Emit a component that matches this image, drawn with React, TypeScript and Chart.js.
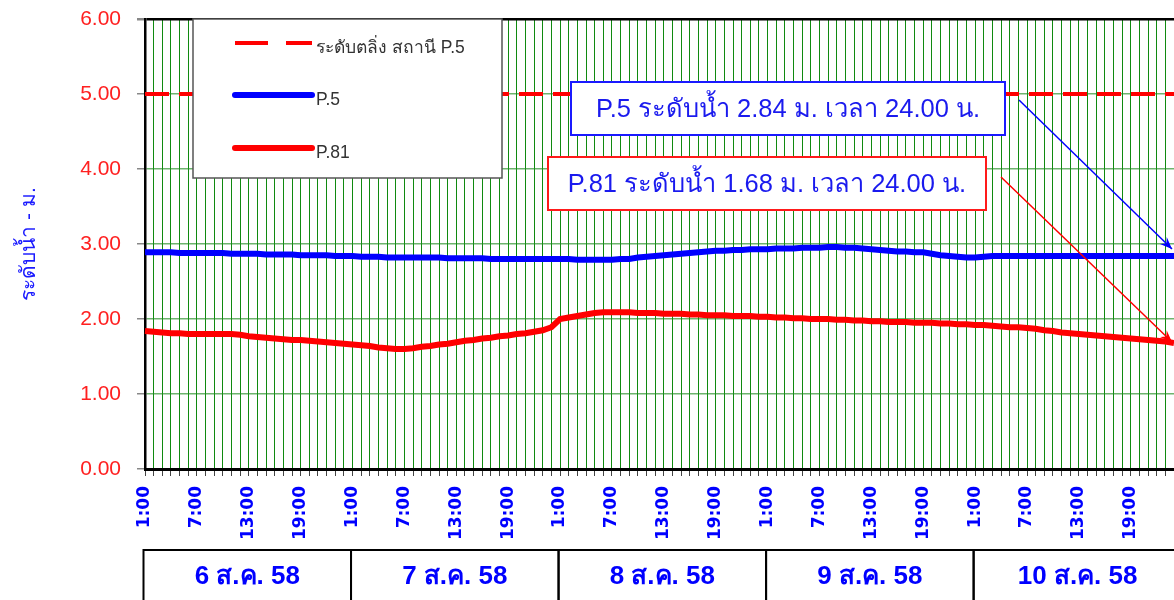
import React, { useEffect, useRef } from 'react';
import { Chart, registerables } from 'chart.js';

Chart.register(...registerables);

const FONT = "'Liberation Sans', 'Noto Sans', 'DejaVu Sans', sans-serif";

const dayLabels = ['6 ส.ค. 58', '7 ส.ค. 58', '8 ส.ค. 58', '9 ส.ค. 58', '10 ส.ค. 58'];
const hourLabels = [
  '1:00', '2:00', '3:00', '4:00', '5:00', '6:00', '7:00', '8:00', '9:00', '10:00', '11:00', '12:00',
  '13:00', '14:00', '15:00', '16:00', '17:00', '18:00', '19:00', '20:00', '21:00', '22:00', '23:00', '24:00',
];
const yTickValues = [0, 1, 2, 3, 4, 5, 6];

const bankLevel = 5.0;
const bankLabel = 'ระดับตลิ่ง สถานี P.5';

const p5Values = [
  2.89, 2.89, 2.89, 2.89, 2.88, 2.88, 2.88, 2.88, 2.88, 2.88, 2.87, 2.87, 2.87, 2.87, 2.86, 2.86, 2.86, 2.86, 2.85, 2.85, 2.85, 2.85, 2.84, 2.84,
  2.84, 2.83, 2.83, 2.83, 2.82, 2.82, 2.82, 2.82, 2.82, 2.82, 2.82, 2.81, 2.81, 2.81, 2.81, 2.81, 2.80, 2.80, 2.80, 2.80, 2.80, 2.80, 2.80, 2.80,
  2.80, 2.80, 2.79, 2.79, 2.79, 2.79, 2.79, 2.80, 2.80, 2.82, 2.83, 2.84, 2.85, 2.86, 2.87, 2.88, 2.89, 2.90, 2.91, 2.91, 2.92, 2.92, 2.93, 2.93,
  2.93, 2.94, 2.94, 2.94, 2.95, 2.95, 2.95, 2.96, 2.96, 2.95, 2.95, 2.94, 2.93, 2.92, 2.91, 2.90, 2.90, 2.89, 2.89, 2.87, 2.85, 2.84, 2.83, 2.82,
  2.82, 2.83, 2.84, 2.84, 2.84, 2.84, 2.84, 2.84, 2.84, 2.84, 2.84, 2.84, 2.84, 2.84, 2.84, 2.84, 2.84, 2.84, 2.84, 2.84, 2.84, 2.84, 2.84, 2.84,
];

const p81Values = [
  1.84, 1.83, 1.82, 1.81, 1.81, 1.80, 1.80, 1.80, 1.80, 1.80, 1.80, 1.79, 1.77, 1.76, 1.75, 1.74, 1.73, 1.72, 1.72, 1.71, 1.70, 1.69, 1.68, 1.67,
  1.66, 1.65, 1.64, 1.62, 1.61, 1.60, 1.60, 1.61, 1.63, 1.64, 1.66, 1.67, 1.69, 1.71, 1.72, 1.74, 1.75, 1.77, 1.78, 1.80, 1.81, 1.83, 1.85, 1.89,
  2.00, 2.02, 2.04, 2.06, 2.08, 2.09, 2.09, 2.09, 2.09, 2.08, 2.08, 2.08, 2.07, 2.07, 2.07, 2.06, 2.06, 2.05, 2.05, 2.05, 2.04, 2.04, 2.04, 2.03,
  2.03, 2.02, 2.02, 2.01, 2.01, 2.00, 2.00, 2.00, 1.99, 1.99, 1.98, 1.98, 1.97, 1.97, 1.96, 1.96, 1.96, 1.95, 1.95, 1.95, 1.94, 1.94, 1.93, 1.93,
  1.92, 1.92, 1.91, 1.90, 1.89, 1.89, 1.88, 1.87, 1.85, 1.84, 1.82, 1.81, 1.80, 1.79, 1.78, 1.77, 1.76, 1.75, 1.74, 1.73, 1.72, 1.71, 1.70, 1.68,
];

const p5Note = 'P.5 ระดับน้ำ 2.84 ม. เวลา 24.00 น.';
const p81Note = 'P.81 ระดับน้ำ 1.68 ม. เวลา 24.00 น.';

const categories = dayLabels.flatMap((d) => hourLabels.map((h) => d + ' ' + h));

function arrow(ctx: CanvasRenderingContext2D, x1: number, y1: number, x2: number, y2: number, color: string) {
  ctx.save();
  ctx.strokeStyle = color;
  ctx.fillStyle = color;
  ctx.lineWidth = 1.5;
  ctx.beginPath();
  ctx.moveTo(x1, y1);
  ctx.lineTo(x2, y2);
  ctx.stroke();
  const a = Math.atan2(y2 - y1, x2 - x1);
  const len = 13;
  const w = 0.38;
  ctx.beginPath();
  ctx.moveTo(x2, y2);
  ctx.lineTo(x2 - len * Math.cos(a - w), y2 - len * Math.sin(a - w));
  ctx.lineTo(x2 - len * 0.6 * Math.cos(a), y2 - len * 0.6 * Math.sin(a));
  ctx.lineTo(x2 - len * Math.cos(a + w), y2 - len * Math.sin(a + w));
  ctx.closePath();
  ctx.fill();
  ctx.restore();
}

const decorPlugin = {
  id: 'decor',
  afterDraw(chart: any) {
    const ctx: CanvasRenderingContext2D = chart.ctx;
    const area = chart.chartArea;
    const xs = chart.scales.x;
    const ys = chart.scales.y;
    const n = categories.length;

    // Legend box
    const lx = area.left + 48;
    const ly = area.top;
    const lw = 309;
    const lh = 159;
    ctx.save();
    ctx.fillStyle = '#ffffff';
    ctx.fillRect(lx, ly, lw, lh);
    ctx.strokeStyle = '#555555';
    ctx.lineWidth = 1.5;
    ctx.strokeRect(lx, ly, lw, lh);
    const rows = [24, 76, 129];
    chart.data.datasets.forEach((ds: any, i: number) => {
      const y = ly + rows[i];
      ctx.save();
      ctx.strokeStyle = ds.borderColor;
      if (ds.borderDash && ds.borderDash.length) {
        ctx.lineWidth = 4;
        ctx.lineCap = 'butt';
        ctx.setLineDash([33, 18]);
      } else {
        ctx.lineWidth = 6;
        ctx.lineCap = 'round';
      }
      ctx.beginPath();
      ctx.moveTo(lx + 42, y);
      ctx.lineTo(lx + 119, y);
      ctx.stroke();
      ctx.restore();
      ctx.fillStyle = '#333333';
      ctx.font = `17.5px ${FONT}`;
      ctx.textAlign = 'left';
      ctx.textBaseline = 'middle';
      ctx.fillText(ds.label, lx + 123, y + 5);
    });
    ctx.restore();

    // Annotation boxes
    const lastX = xs.getPixelForValue(n - 1);
    const p5Y = ys.getPixelForValue(p5Values[n - 1]);
    const p81Y = ys.getPixelForValue(p81Values[n - 1]);
    const boxes = [
      { x: 571, y: 82, w: 434, h: 53, color: '#1a1aff', text: p5Note, tx: lastX - 2, ty: p5Y - 7, ox: 14, oy: 18 },
      { x: 548, y: 157, w: 438, h: 53, color: '#ff1a1a', text: p81Note, tx: lastX - 2, ty: p81Y - 1, ox: 15, oy: 20 },
    ];
    boxes.forEach((b) => {
      ctx.save();
      ctx.fillStyle = '#ffffff';
      ctx.fillRect(b.x, b.y, b.w, b.h);
      ctx.strokeStyle = b.color;
      ctx.lineWidth = 2;
      ctx.strokeRect(b.x, b.y, b.w, b.h);
      ctx.fillStyle = '#1a1aee';
      ctx.font = `25.5px ${FONT}`;
      ctx.textAlign = 'center';
      ctx.textBaseline = 'middle';
      ctx.fillText(b.text, b.x + b.w / 2, b.y + b.h / 2 + 1);
      ctx.restore();
      arrow(ctx, b.x + b.w + b.ox, b.y + b.oy, b.tx, b.ty, b.color === '#1a1aff' ? '#0000ff' : '#ff0000');
    });

    // Date row
    const top = area.bottom + 81;
    ctx.save();
    ctx.strokeStyle = '#000000';
    ctx.lineWidth = 2;
    dayLabels.forEach((d, i) => {
      const left = xs.getPixelForValue(i * 24) - 1.5;
      const right = i < dayLabels.length - 1 ? xs.getPixelForValue((i + 1) * 24) - 1.5 : chart.width + 10;
      ctx.strokeRect(left, top, right - left, chart.height - top + 10);
      ctx.fillStyle = '#0000ff';
      ctx.font = `bold 26px ${FONT}`;
      ctx.textAlign = 'center';
      ctx.textBaseline = 'middle';
      const cx = i < dayLabels.length - 1 ? (left + right) / 2 : left + 104;
      ctx.fillText(d, cx, top + 27);
    });
    ctx.restore();
  },
};

export default function App() {
  const ref = useRef<HTMLCanvasElement | null>(null);
  useEffect(() => {
    if (!ref.current) return;
    const chart = new Chart(ref.current, {
      type: 'line',
      data: {
        labels: categories,
        datasets: [
          {
            label: bankLabel,
            data: categories.map(() => bankLevel),
            borderColor: '#ff0000',
            borderWidth: 4,
            borderDash: [24, 10],
            pointRadius: 0,
          },
          {
            label: 'P.5',
            data: p5Values,
            borderColor: '#0000ff',
            borderWidth: 6,
            pointRadius: 0,
          },
          {
            label: 'P.81',
            data: p81Values,
            borderColor: '#ff0000',
            borderWidth: 6,
            pointRadius: 0,
          },
        ],
      },
      options: {
        animation: false,
        responsive: false,
        devicePixelRatio: 1,
        layout: { padding: { top: 19, left: 0, right: 0, bottom: 0 } },
        plugins: { legend: { display: false }, tooltip: { enabled: false } },
        elements: { line: { tension: 0, borderCapStyle: 'butt' } },
        scales: {
          x: {
            type: 'category',
            offset: false,
            grid: { color: '#108a10', lineWidth: 1, tickColor: '#444444', tickLength: 7 },
            border: { color: '#000000', width: 3 },
            ticks: {
              autoSkip: false,
              maxRotation: 90,
              minRotation: 90,
              color: '#0000ff',
              padding: 10,
              font: { family: "'DejaVu Sans', sans-serif", size: 17, weight: 'bold' },
              callback: (_v: any, i: number) => (i % 6 === 0 ? hourLabels[i % 24] : ''),
            },
            afterFit: (s: any) => {
              s.height = 131;
              s.paddingLeft = 0;
              s.paddingRight = 0;
            },
          },
          y: {
            min: 0,
            max: 6,
            afterBuildTicks: (s: any) => {
              s.ticks = yTickValues.map((v) => ({ value: v }));
            },
            ticks: {
              color: '#ff2020',
              padding: 16,
              font: { family: FONT, size: 21 },
              callback: (v: any) => Number(v).toFixed(2),
            },
            grid: {
              color: (c: any) => (c.tick && c.tick.value === 6 ? '#000000' : 'rgba(30,140,30,0.65)'),
              lineWidth: (c: any) => (c.tick && c.tick.value === 6 ? 2.5 : 1.5),
              tickColor: '#888888',
              tickLength: 8,
            },
            border: { color: '#000000', width: 2.5 },
            title: {
              display: true,
              text: 'ระดับน้ำ - ม.',
              color: '#1a1aff',
              font: { family: FONT, size: 21 },
              padding: { top: 17, bottom: 0 },
            },
            afterFit: (s: any) => {
              s.width = 145;
              s.paddingTop = 0;
              s.paddingBottom = 0;
            },
          },
        },
      },
      plugins: [decorPlugin],
    } as any);
    return () => chart.destroy();
  }, []);
  return (
    <div style={{ position: 'fixed', left: 0, top: 0, width: 1174, height: 600, background: '#fff' }}>
      <canvas ref={ref} width={1174} height={600} style={{ display: 'block' }} />
    </div>
  );
}
